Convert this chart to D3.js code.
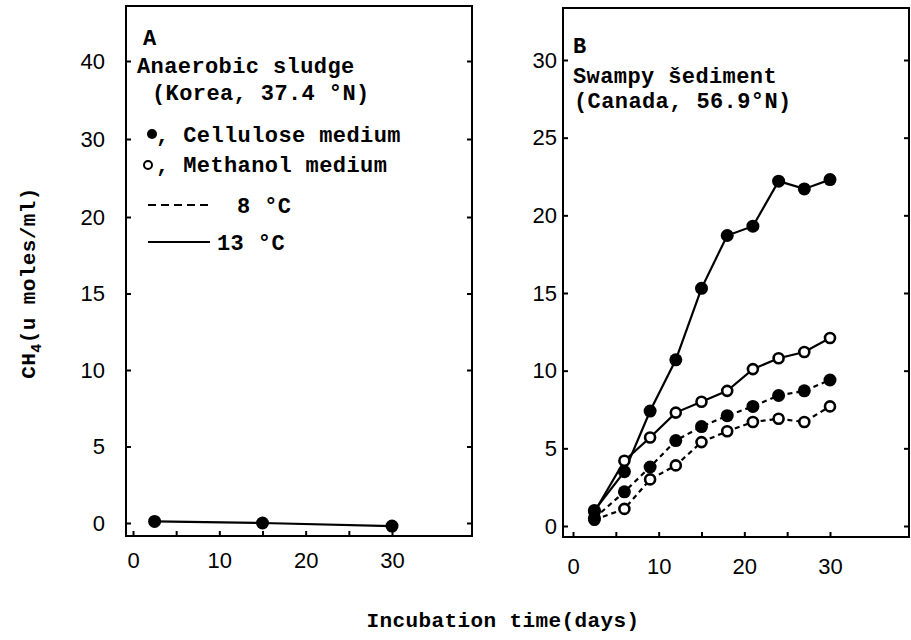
<!DOCTYPE html>
<html>
<head>
<meta charset="utf-8">
<script src="https://cdn.jsdelivr.net/npm/d3@7"></script>
<style>
  body { margin: 0; background: #fff; }
  svg { display: block; }
  .mono { font-family: "Liberation Mono", "DejaVu Sans Mono", monospace; font-weight: bold; letter-spacing: 0.4px; }
  .tick text { font-family: "Liberation Sans", Arial, sans-serif; font-size: 22px; fill: #000; }
  .tick line { stroke: #000; stroke-width: 2; }
</style>
</head>
<body>
<svg id="chart" width="911" height="640"></svg>
<script>
// panel A : anaerobic sludge (Korea)
const daysA = [2.5, 15, 30];
const cellulose13A = [0.1, 0, -0.2];
const yTicksA = [0, 5, 10, 15, 20, 30, 40];

// panel B : swampy sediment (Canada)
const daysB = [2.5, 6, 9, 12, 15, 18, 21, 24, 27, 30];
const cellulose13B = [1.0, 3.5, 7.4, 10.7, 15.3, 18.7, 19.3, 22.2, 21.7, 22.3];
const methanol13B = [0.9, 4.2, 5.7, 7.3, 8.0, 8.7, 10.1, 10.8, 11.2, 12.1];
const cellulose8B = [0.5, 2.2, 3.8, 5.5, 6.4, 7.1, 7.7, 8.4, 8.7, 9.4];
const methanol8B = [0.4, 1.1, 3.0, 3.9, 5.4, 6.1, 6.7, 6.9, 6.7, 7.7];
const yTicksB = [0, 5, 10, 15, 20, 25, 30];

const xTicks = [0, 5, 10, 15, 20, 25, 30];

const svg = d3.select("#chart");

// A has an uneven y axis : 0..20 by 5, then 30, 40 at the same spacing
const xA = d3.scaleLinear().domain([0, 30]).range([133, 392]);
const yA = d3.scaleLinear().domain([0, 20, 40]).range([523, 217, 61]);
const xB = d3.scaleLinear().domain([0, 30]).range([573, 830]);
const yB = d3.scaleLinear().domain([0, 30]).range([526, 60]);

function frame(x0, x1, y0, y1) {
    svg.append("rect")
        .attr("x", x0).attr("y", y0)
        .attr("width", x1 - x0).attr("height", y1 - y0)
        .attr("fill", "none").attr("stroke", "#000").attr("stroke-width", 2);
}

function axes(x, y, yTicks, left, right, bottom, yPad, xPad) {
    svg.append("g")
        .attr("transform", `translate(${left},0)`)
        .call(d3.axisLeft(y).tickValues(yTicks).tickSizeInner(-5).tickSizeOuter(0).tickPadding(yPad))
        .call(g => g.select(".domain").remove());
    svg.append("g")
        .attr("transform", `translate(${right},0)`)
        .call(d3.axisRight(y).tickValues(yTicks).tickSizeInner(-5).tickSizeOuter(0).tickFormat(""))
        .call(g => g.select(".domain").remove());
    svg.append("g")
        .attr("transform", `translate(0,${bottom})`)
        .call(d3.axisBottom(x).tickValues(xTicks).tickSizeInner(-5).tickSizeOuter(0).tickPadding(xPad)
            .tickFormat(d => d % 10 === 0 ? d : ""))
        .call(g => g.select(".domain").remove());
}

function series(x, y, days, vals, filled, dashed) {
    const pts = days.map((d, i) => [d, vals[i]]);
    const line = d3.line().x(d => x(d[0])).y(d => y(d[1]));
    svg.append("path")
        .attr("d", line(pts))
        .attr("fill", "none").attr("stroke", "#000").attr("stroke-width", 2.2)
        .attr("stroke-dasharray", dashed ? "5,4" : null);
    return pts;
}

function markers(x, y, pts, filled) {
    svg.append("g").selectAll("circle").data(pts).join("circle")
        .attr("cx", d => x(d[0])).attr("cy", d => y(d[1]))
        .attr("r", filled ? 6.5 : 5)
        .attr("fill", filled ? "#000" : "#fff")
        .attr("stroke", "#000").attr("stroke-width", filled ? 0 : 2.6);
}

// ---- panel A
frame(126, 472, 6, 536);
axes(xA, yA, yTicksA, 126, 472, 536, 21, 16);
markers(xA, yA, series(xA, yA, daysA, cellulose13A, true, false), true);

// ---- panel B
frame(563, 909, 8, 537);
axes(xB, yB, yTicksB, 563, 909, 537, 6, 21);
const pm8 = series(xB, yB, daysB, methanol8B, false, true);
const pc8 = series(xB, yB, daysB, cellulose8B, true, true);
const pm13 = series(xB, yB, daysB, methanol13B, false, false);
const pc13 = series(xB, yB, daysB, cellulose13B, true, false);
markers(xB, yB, pm8, false);
markers(xB, yB, pc8, true);
markers(xB, yB, pm13, false);
markers(xB, yB, pc13, true);

// ---- texts
function label(txt, x, y, size) {
    return svg.append("text").attr("class", "mono")
        .attr("x", x).attr("y", y).attr("font-size", size || 22).text(txt);
}

label("A", 143, 45);
label("Anaerobic sludge", 137, 73);
label("(Korea, 37.4 °N)", 152, 100);
svg.append("circle").attr("cx", 152).attr("cy", 134).attr("r", 5).attr("fill", "#000");
label(", Cellulose medium", 156, 142);
svg.append("circle").attr("cx", 148).attr("cy", 165).attr("r", 4).attr("fill", "#fff")
    .attr("stroke", "#000").attr("stroke-width", 2);
label(", Methanol medium", 156, 172);
svg.append("line").attr("x1", 148).attr("x2", 208).attr("y1", 205).attr("y2", 205)
    .attr("stroke", "#000").attr("stroke-width", 2).attr("stroke-dasharray", "8,5");
label("8 °C", 237, 213);
svg.append("line").attr("x1", 148).attr("x2", 210).attr("y1", 242).attr("y2", 242)
    .attr("stroke", "#000").attr("stroke-width", 2);
label("13 °C", 217, 250);

label("B", 573, 53);
label("Swampy šediment", 573, 83);
label("(Canada, 56.9°N)", 574, 108);

label("Incubation time(days)", 503, 627, 21).attr("text-anchor", "middle");

const yl = svg.append("text").attr("class", "mono")
    .attr("font-size", 21).attr("text-anchor", "middle")
    .attr("transform", "translate(35,283) rotate(-90)");
yl.append("tspan").text("CH");
yl.append("tspan").attr("font-size", 15).attr("dy", 6).text("4");
yl.append("tspan").attr("dy", -6).text("(u moles/ml)");
</script>
</body>
</html>
